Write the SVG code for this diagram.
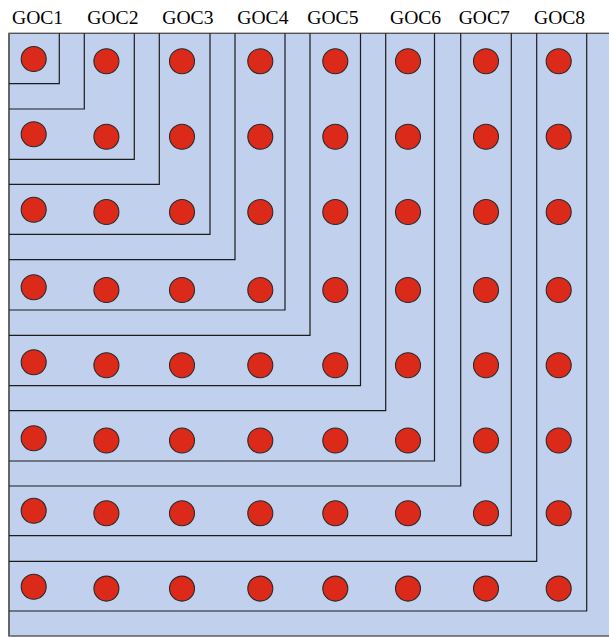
<svg xmlns="http://www.w3.org/2000/svg" width="609" height="637" viewBox="0 0 609 637">
<style>
text{font-family:"Times New Roman","Liberation Serif","DejaVu Serif",serif;font-size:19.6px;fill:#000}
.ln{fill:none;stroke:#1c1c1c;stroke-width:1.2}
.dot{fill:#DC2A1A;stroke:#2a2a2a;stroke-width:1.1}
</style>
<rect x="0" y="0" width="609" height="637" fill="#fff"/>
<rect id="panel" x="9" y="33.3" width="605" height="602.7" fill="#C1D0EC" stroke="#555" stroke-width="1.4"/>
<line x1="9" y1="33.3" x2="9" y2="636" stroke="#666" stroke-width="2"/>
<g id="GOC1">
<text x="12" y="24">GOC1</text>
<polyline class="ln" points="59.3,33.3 59.3,83.7 9,83.7"/>
<polyline class="ln" points="84.3,33.3 84.3,109 9,109"/>
<circle class="dot" cx="33.7" cy="59" r="12.5"/>
</g>
<g id="GOC2">
<text x="87.3" y="24">GOC2</text>
<polyline class="ln" points="134.3,33.3 134.3,159.3 9,159.3"/>
<polyline class="ln" points="159.3,33.3 159.3,184.3 9,184.3"/>
<circle class="dot" cx="106.4" cy="61.3" r="12.5"/>
<circle class="dot" cx="106.4" cy="136.7" r="12.5"/>
<circle class="dot" cx="33.7" cy="134.3" r="12.5"/>
</g>
<g id="GOC3">
<text x="162.3" y="24">GOC3</text>
<polyline class="ln" points="210,33.3 210,234.3 9,234.3"/>
<polyline class="ln" points="235,33.3 235,259.7 9,259.7"/>
<circle class="dot" cx="182" cy="61.3" r="12.5"/>
<circle class="dot" cx="182" cy="136.7" r="12.5"/>
<circle class="dot" cx="182" cy="212" r="12.5"/>
<circle class="dot" cx="106.4" cy="212" r="12.5"/>
<circle class="dot" cx="33.7" cy="209.7" r="12.5"/>
</g>
<g id="GOC4">
<text x="237.3" y="24">GOC4</text>
<polyline class="ln" points="285,33.3 285,310 9,310"/>
<polyline class="ln" points="310,33.3 310,335.3 9,335.3"/>
<circle class="dot" cx="260.3" cy="61.3" r="12.5"/>
<circle class="dot" cx="260.3" cy="136.7" r="12.5"/>
<circle class="dot" cx="260.3" cy="212" r="12.5"/>
<circle class="dot" cx="260.3" cy="290" r="12.5"/>
<circle class="dot" cx="182" cy="290" r="12.5"/>
<circle class="dot" cx="106.4" cy="290" r="12.5"/>
<circle class="dot" cx="33.7" cy="287.3" r="12.5"/>
</g>
<g id="GOC5">
<text x="307.3" y="24">GOC5</text>
<polyline class="ln" points="360.5,33.3 360.5,385.7 9,385.7"/>
<polyline class="ln" points="385.7,33.3 385.7,410.7 9,410.7"/>
<circle class="dot" cx="335.3" cy="61.3" r="12.5"/>
<circle class="dot" cx="335.3" cy="136.7" r="12.5"/>
<circle class="dot" cx="335.3" cy="212" r="12.5"/>
<circle class="dot" cx="335.3" cy="290" r="12.5"/>
<circle class="dot" cx="335.3" cy="365.2" r="12.5"/>
<circle class="dot" cx="260.3" cy="365.2" r="12.5"/>
<circle class="dot" cx="182" cy="365.2" r="12.5"/>
<circle class="dot" cx="106.4" cy="365.2" r="12.5"/>
<circle class="dot" cx="33.7" cy="362.3" r="12.5"/>
</g>
<g id="GOC6">
<text x="390" y="24">GOC6</text>
<polyline class="ln" points="434.5,33.3 434.5,461 9,461"/>
<polyline class="ln" points="460.7,33.3 460.7,486 9,486"/>
<circle class="dot" cx="408" cy="61.3" r="12.5"/>
<circle class="dot" cx="408" cy="136.7" r="12.5"/>
<circle class="dot" cx="408" cy="212" r="12.5"/>
<circle class="dot" cx="408" cy="290" r="12.5"/>
<circle class="dot" cx="408" cy="365.2" r="12.5"/>
<circle class="dot" cx="408" cy="440.5" r="12.5"/>
<circle class="dot" cx="335.3" cy="440.5" r="12.5"/>
<circle class="dot" cx="260.3" cy="440.5" r="12.5"/>
<circle class="dot" cx="182" cy="440.5" r="12.5"/>
<circle class="dot" cx="106.4" cy="440.5" r="12.5"/>
<circle class="dot" cx="33.7" cy="438.3" r="12.5"/>
</g>
<g id="GOC7">
<text x="458.7" y="24">GOC7</text>
<polyline class="ln" points="511.3,33.3 511.3,535.7 9,535.7"/>
<polyline class="ln" points="536.7,33.3 536.7,561.3 9,561.3"/>
<circle class="dot" cx="486" cy="61.3" r="12.5"/>
<circle class="dot" cx="486" cy="136.7" r="12.5"/>
<circle class="dot" cx="486" cy="212" r="12.5"/>
<circle class="dot" cx="486" cy="290" r="12.5"/>
<circle class="dot" cx="486" cy="365.2" r="12.5"/>
<circle class="dot" cx="486" cy="440.5" r="12.5"/>
<circle class="dot" cx="486" cy="513.3" r="12.5"/>
<circle class="dot" cx="408" cy="513.3" r="12.5"/>
<circle class="dot" cx="335.3" cy="513.3" r="12.5"/>
<circle class="dot" cx="260.3" cy="513.3" r="12.5"/>
<circle class="dot" cx="182" cy="513.3" r="12.5"/>
<circle class="dot" cx="106.4" cy="513.3" r="12.5"/>
<circle class="dot" cx="33.7" cy="510.7" r="12.5"/>
</g>
<g id="GOC8">
<text x="534" y="24">GOC8</text>
<polyline class="ln" points="586.7,33.3 586.7,611 9,611"/>
<circle class="dot" cx="558.7" cy="61.3" r="12.5"/>
<circle class="dot" cx="558.7" cy="136.7" r="12.5"/>
<circle class="dot" cx="558.7" cy="212" r="12.5"/>
<circle class="dot" cx="558.7" cy="290" r="12.5"/>
<circle class="dot" cx="558.7" cy="365.2" r="12.5"/>
<circle class="dot" cx="558.7" cy="440.5" r="12.5"/>
<circle class="dot" cx="558.7" cy="513.3" r="12.5"/>
<circle class="dot" cx="558.7" cy="588.6" r="12.5"/>
<circle class="dot" cx="486" cy="588.6" r="12.5"/>
<circle class="dot" cx="408" cy="588.6" r="12.5"/>
<circle class="dot" cx="335.3" cy="588.6" r="12.5"/>
<circle class="dot" cx="260.3" cy="588.6" r="12.5"/>
<circle class="dot" cx="182" cy="588.6" r="12.5"/>
<circle class="dot" cx="106.4" cy="588.6" r="12.5"/>
<circle class="dot" cx="33.7" cy="586.7" r="12.5"/>
</g>
</svg>
